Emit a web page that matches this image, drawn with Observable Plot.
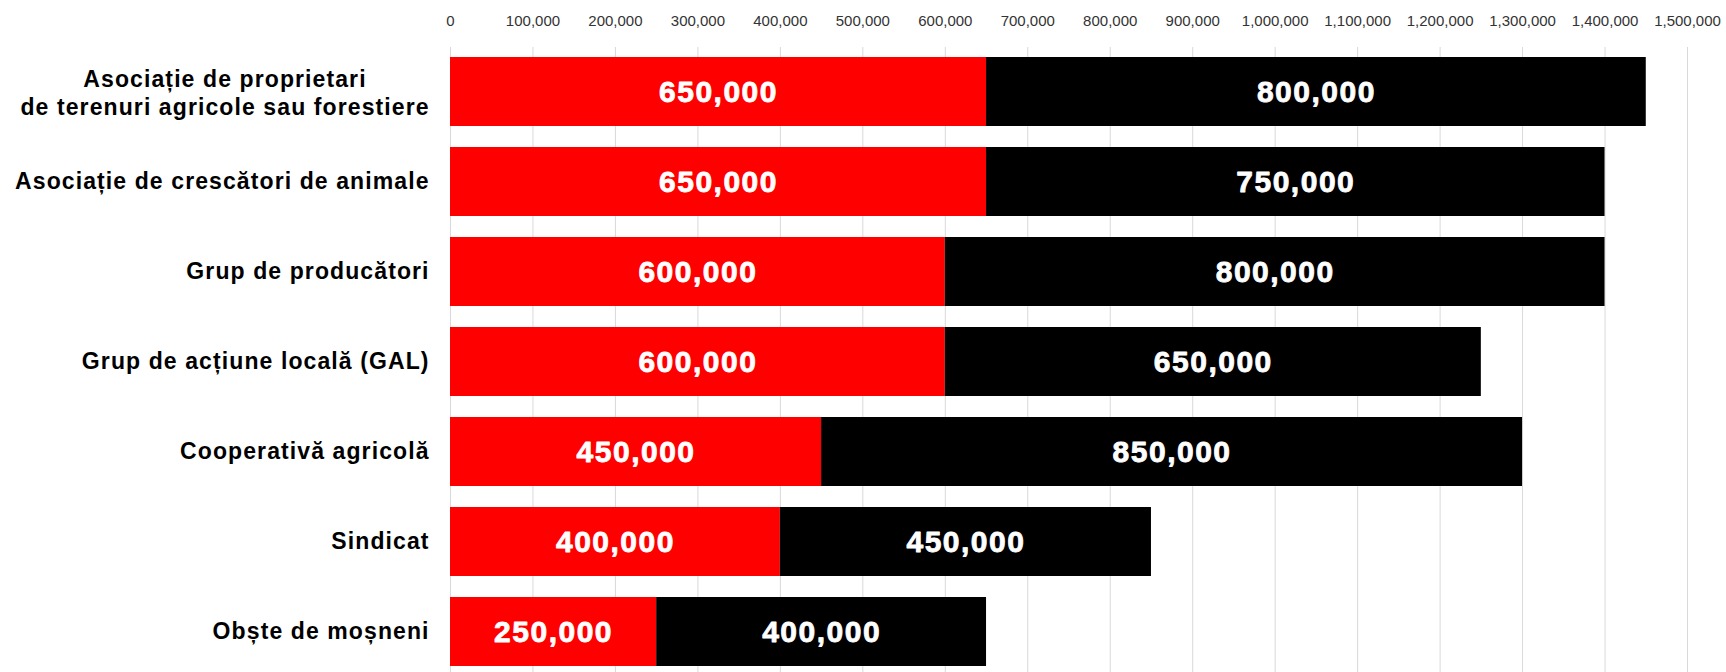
<!DOCTYPE html>
<html><head><meta charset="utf-8">
<script src="https://cdn.jsdelivr.net/npm/d3@7"></script>
<script src="https://cdn.jsdelivr.net/npm/@observablehq/plot@0.6"></script>
<style>body{margin:0;background:#fff}</style>
</head><body><div id="chart"></div>
<script>
const categories = [
  "Asociație de proprietari\nde terenuri agricole sau forestiere",
  "Asociație de crescători de animale",
  "Grup de producători",
  "Grup de acțiune locală (GAL)",
  "Cooperativă agricolă",
  "Sindicat",
  "Obște de moșneni"
];
const redValues = [650000, 650000, 600000, 600000, 450000, 400000, 250000];
const blackValues = [800000, 750000, 800000, 650000, 850000, 450000, 400000];
const seriesNames = ["Seria 1", "Seria 2"];
const seriesColors = ["#ff0000", "#000000"];
const xTicks = [0, 100000, 200000, 300000, 400000, 500000, 600000, 700000, 800000, 900000, 1000000, 1100000, 1200000, 1300000, 1400000, 1500000];

const rows = [];
categories.forEach((c, i) => {
  rows.push({category: c, series: seriesNames[0], value: redValues[i]});
  rows.push({category: c, series: seriesNames[1], value: blackValues[i]});
});

const FONT = "'Liberation Sans', Arial, sans-serif";
const fmt = d3.format(",");

const multi = categories.filter(c => c.includes("\n"));
const single = categories.filter(c => !c.includes("\n"));

const LABEL_SIZE = 23, LABEL_LS = 1.1, VALUE_LS = 1.5;
const ctx = document.createElement("canvas").getContext("2d");
ctx.font = `bold ${LABEL_SIZE}px 'Liberation Sans'`;
const multiW = multi.length ? d3.max(multi[0].split("\n"), s => ctx.measureText(s).width + LABEL_LS * s.length) : 0;

const chart = Plot.plot({
  width: 1726,
  height: 672,
  marginLeft: 450,
  marginRight: 39,
  marginTop: 47,
  marginBottom: 0,
  style: {fontFamily: FONT, fontSize: "15px", background: "#fff"},
  x: {domain: [0, 1500000], label: null},
  y: {domain: categories, padding: 0.235, paddingOuter: 0.082, align: 0.6, axis: null},
  color: {domain: seriesNames, range: seriesColors},
  marks: [
    Plot.gridX(xTicks, {stroke: "#d9d9d9", strokeOpacity: 1, strokeWidth: 1}),
    Plot.barX(rows, Plot.stackX({x: "value", y: "category", fill: "series"})),
    Plot.text(rows, Plot.stackX({
      x: "value", y: "category", z: "series",
      text: d => fmt(d.value),
      fill: "white", stroke: "white", strokeWidth: 0.8,
      fontSize: 30, fontWeight: "bold"
    })),
    Plot.axisX(xTicks, {anchor: "top", tickSize: 0, tickPadding: 22, tickFormat: fmt, fontSize: 15, fill: "#333", label: null}),
    Plot.text(single, {y: d => d, text: d => d, frameAnchor: "left", textAnchor: "end", dx: -22 + LABEL_LS, fontSize: LABEL_SIZE, fontWeight: "bold", fill: "#000"}),
    Plot.text(multi, {y: d => d, text: d => d, frameAnchor: "left", textAnchor: "middle", dx: -22 - multiW / 2 + LABEL_LS, lineHeight: 1.22, fontSize: LABEL_SIZE, fontWeight: "bold", fill: "#000"})
  ]
});
// apply letter spacing to the text marks (value labels, then category labels)
const textGroups = chart.querySelectorAll('g[aria-label="text"]');
if (textGroups[0]) textGroups[0].style.letterSpacing = VALUE_LS + "px";
for (let i = 1; i < textGroups.length; i++) textGroups[i].style.letterSpacing = LABEL_LS + "px";
document.getElementById("chart").append(chart);
</script>
</body></html>
